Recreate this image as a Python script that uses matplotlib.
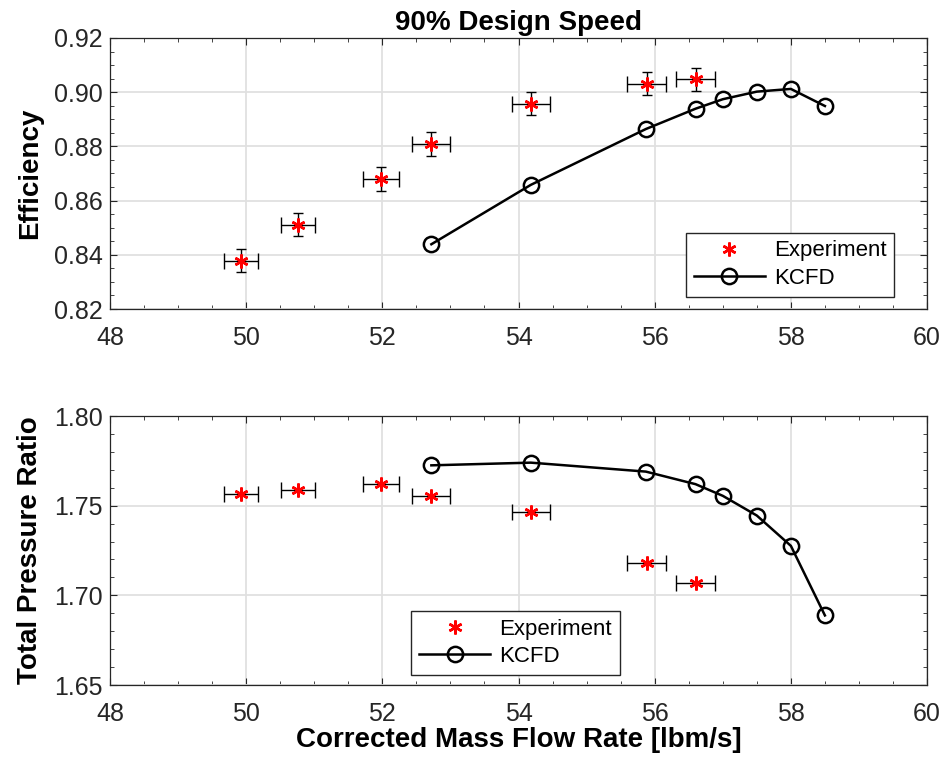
import numpy as np
import matplotlib
matplotlib.use('Agg')
import matplotlib.pyplot as plt
from matplotlib.ticker import MultipleLocator, FormatStrFormatter

plt.rcParams['font.family'] = ['Liberation Sans', 'DejaVu Sans']

# datos experimentales
mflow_exp = [49.92, 50.76, 51.98, 52.72, 54.18, 55.88, 56.60]
mflow_err = [0.25, 0.25, 0.26, 0.28, 0.28, 0.28, 0.28]
eff_exp = [0.8378, 0.8511, 0.8680, 0.8809, 0.8957, 0.9031, 0.9047]
eff_err = [0.0043, 0.0043, 0.0043, 0.0043, 0.0043, 0.0043, 0.0043]
pr_exp = [1.7565, 1.7585, 1.7620, 1.7555, 1.7465, 1.7180, 1.7070]

# resultados KCFD
mflow_cfd = [52.72, 54.18, 55.87, 56.60, 57.00, 57.50, 58.00, 58.50]
eff_cfd = [0.8439, 0.8658, 0.8864, 0.8939, 0.8974, 0.9002, 0.9012, 0.8949]
pr_cfd = [1.7725, 1.7740, 1.7690, 1.7620, 1.7555, 1.7445, 1.7276, 1.6888]

asterisco = (6, 2, 0)
gris = '#262626'

fig = plt.figure(figsize=(9.45, 7.67), dpi=100)
ax1 = fig.add_axes([0.1164, 0.5971, 0.8646, 0.3534])
ax2 = fig.add_axes([0.1164, 0.1069, 0.8646, 0.3507])


def estilo(ax):
    ax.set_xlim(48, 60)
    ax.xaxis.set_major_locator(MultipleLocator(2))
    ax.xaxis.set_minor_locator(MultipleLocator(0.5))
    ax.grid(True, which='major', color='#e0e0e0', linewidth=1.3)
    ax.set_axisbelow(True)
    ax.tick_params(which='both', direction='in', top=True, right=True,
                   labelsize=18, colors=gris, pad=5)
    ax.tick_params(axis='x', which='major', pad=12)
    ax.tick_params(which='major', length=5)
    ax.tick_params(which='minor', length=3)
    for s in ax.spines.values():
        s.set_color(gris)
        s.set_linewidth(0.9)


def leyenda(ax, ancla):
    ax.legend(loc='lower left', bbox_to_anchor=ancla, fontsize=16,
              fancybox=False, edgecolor=gris, framealpha=1,
              handlelength=3.2, handletextpad=0.4, borderpad=0.35,
              labelspacing=0.3, borderaxespad=0)


# panel superior: eficiencia
ax1.errorbar(mflow_exp, eff_exp, xerr=mflow_err, fmt='none',
             ecolor='black', elinewidth=1.0, capsize=6, zorder=2)
ax1.errorbar(mflow_exp, eff_exp, yerr=eff_err, fmt='none',
             ecolor='black', elinewidth=1.0, capsize=3.5, zorder=2)
ax1.plot(mflow_exp, eff_exp, linestyle='none', marker=asterisco, color='red',
         markersize=10, markeredgewidth=1.8, label='Experiment', zorder=3)
ax1.plot(mflow_cfd, eff_cfd, '-o', color='black', markerfacecolor='none',
         markersize=11, markeredgewidth=1.8, linewidth=1.8, label='KCFD', zorder=3)
ax1.set_ylim(0.82, 0.92)
ax1.yaxis.set_major_locator(MultipleLocator(0.02))
ax1.yaxis.set_minor_locator(MultipleLocator(0.005))
ax1.yaxis.set_major_formatter(FormatStrFormatter('%.2f'))
estilo(ax1)
ax1.set_ylabel('Efficiency', fontsize=20, fontweight='bold', labelpad=8)
ax1.set_title('90% Design Speed', fontsize=20, fontweight='bold', pad=6)
leyenda(ax1, (0.705, 0.045))

# panel inferior: relacion de presiones
ax2.errorbar(mflow_exp, pr_exp, xerr=mflow_err, fmt='none',
             ecolor='black', elinewidth=1.0, capsize=6, zorder=2)
ax2.plot(mflow_exp, pr_exp, linestyle='none', marker=asterisco, color='red',
         markersize=10, markeredgewidth=1.8, label='Experiment', zorder=3)
ax2.plot(mflow_cfd, pr_cfd, '-o', color='black', markerfacecolor='none',
         markersize=11, markeredgewidth=1.8, linewidth=1.8, label='KCFD', zorder=3)
ax2.set_ylim(1.65, 1.80)
ax2.yaxis.set_major_locator(MultipleLocator(0.05))
ax2.yaxis.set_minor_locator(MultipleLocator(0.01))
ax2.yaxis.set_major_formatter(FormatStrFormatter('%.2f'))
estilo(ax2)
ax2.set_ylabel('Total Pressure Ratio', fontsize=20, fontweight='bold', labelpad=8)
ax2.set_xlabel('Corrected Mass Flow Rate [lbm/s]', fontsize=20, fontweight='bold', labelpad=1)
leyenda(ax2, (0.369, 0.037))

fig.savefig('out.png', dpi=100)
